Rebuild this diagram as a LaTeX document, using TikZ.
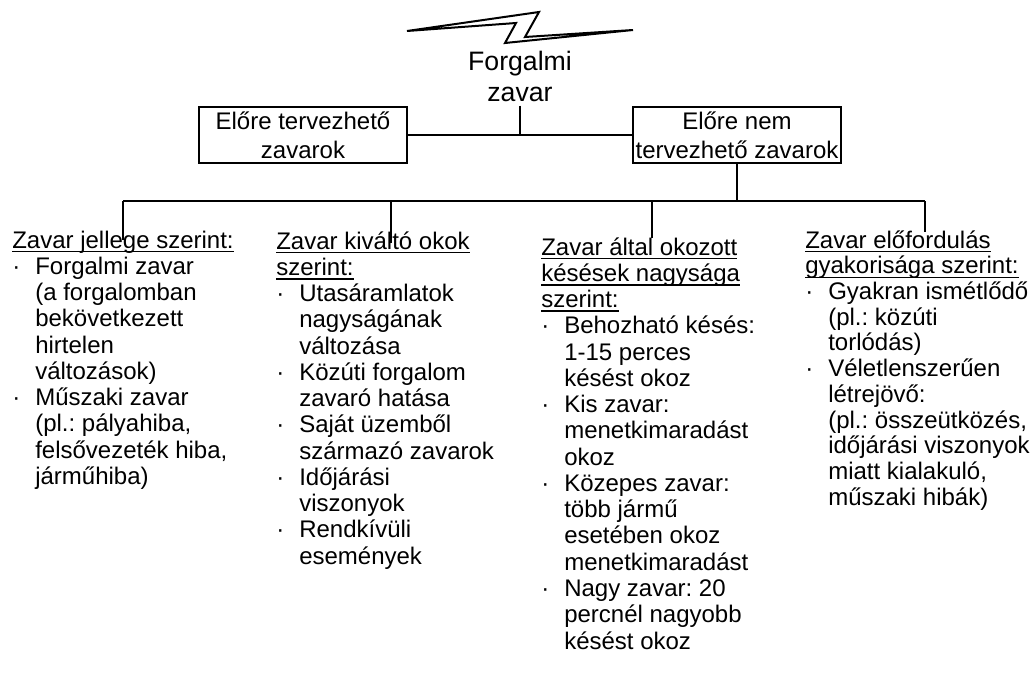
\documentclass[tikz,border=0pt]{standalone}
\usepackage{fontspec}
\setmainfont{Liberation Sans}
\frenchspacing

% one column line: underlined heading, bullet item, continuation line
\newcommand\colhead[1]{\hbox{\setbox0\hbox{#1}\rlap{\rule[-3.2pt]{\wd0}{1pt}}\box0}}
\newcommand\colitem[1]{\hbox{\hbox to 17.25pt{·\hfil}#1}}
\newcommand\colcont[1]{\hbox{\hspace{17.25pt}#1}}

\tikzset{
  textcol/.style={anchor=base west, inner sep=0pt, font=\fontsize{18}{19.7}\selectfont},
  catbox/.style={draw, line width=1.5pt, minimum width=156pt, minimum height=42pt,
    inner sep=0pt, align=center, font=\fontsize{18}{21.75}\selectfont},
  thin/.style={line width=1.1pt},
  thick/.style={line width=1.5pt},
}

\begin{document}
\begin{tikzpicture}[x=0.75pt, y=-0.75pt]
\useasboundingbox (0,0) rectangle (1035,682);

% lightning mark above the root
\draw[line width=1.5pt, fill=white, line join=miter]
  (407,31) -- (539,12) -- (525,37) -- (633,30) -- (505,43) -- (516,23) -- cycle;

% root
\node[anchor=base, inner sep=3pt, font=\fontsize{20}{23.25}\selectfont] (root) at (520,70)
  {\vtop{\lineskiplimit=-\maxdimen\halign{\hfil#\hfil\cr Forgalmi\cr zavar\cr}}};

% two main categories
\node[catbox] (plan) at (303,135) {Előre tervezhető\\zavarok};
\node[catbox] (unplan) at (737,135) {Előre nem\\tervezhető zavarok};

\draw[thin] (plan.east) -- (unplan.west);
\draw[thin] (root.south) -- (root.south |- plan.east);

% columns of the unplanned disturbances
\node[textcol] (c1) at (12,248) {\vtop{\lineskiplimit=-\maxdimen
  \colhead{Zavar jellege szerint:}
  \colitem{Forgalmi zavar}
  \colcont{(a forgalomban}
  \colcont{bekövetkezett}
  \colcont{hirtelen}
  \colcont{változások)}
  \colitem{Műszaki zavar}
  \colcont{(pl.: pályahiba,}
  \colcont{felsővezeték hiba,}
  \colcont{járműhiba)}}};

\node[textcol] (c2) at (276,249) {\vtop{\lineskiplimit=-\maxdimen
  \colhead{Zavar kiváltó okok}
  \colhead{szerint:}
  \colitem{Utasáramlatok}
  \colcont{nagyságának}
  \colcont{változása}
  \colitem{Közúti forgalom}
  \colcont{zavaró hatása}
  \colitem{Saját üzemből}
  \colcont{származó zavarok}
  \colitem{Időjárási}
  \colcont{viszonyok}
  \colitem{Rendkívüli}
  \colcont{események}}};

\node[textcol] (c3) at (541,255) {\vtop{\lineskiplimit=-\maxdimen
  \colhead{Zavar által okozott}
  \colhead{késések nagysága}
  \colhead{szerint:}
  \colitem{Behozható késés:}
  \colcont{1-15 perces}
  \colcont{késést okoz}
  \colitem{Kis zavar:}
  \colcont{menetkimaradást}
  \colcont{okoz}
  \colitem{Közepes zavar:}
  \colcont{több jármű}
  \colcont{esetében okoz}
  \colcont{menetkimaradást}
  \colitem{Nagy zavar: 20}
  \colcont{percnél nagyobb}
  \colcont{késést okoz}}};

\node[textcol] (c4) at (805,248) {\vtop{\baselineskip=19.3pt\lineskiplimit=-\maxdimen
  \colhead{Zavar előfordulás}
  \colhead{gyakorisága szerint:}
  \colitem{Gyakran ismétlődő}
  \colcont{(pl.: közúti}
  \colcont{torlódás)}
  \colitem{Véletlenszerűen}
  \colcont{létrejövő:}
  \colcont{(pl.: összeütközés,}
  \colcont{időjárási viszonyok}
  \colcont{miatt kialakuló,}
  \colcont{műszaki hibák)}}};

% distribution bus
\coordinate (bus) at (737,201);
\coordinate (b1) at (123,201);
\coordinate (b2) at (391,201);
\coordinate (b3) at (652,201);
\coordinate (b4) at (925,201);
\coordinate (e1) at (123,240);
\coordinate (e2) at (391,243);
\coordinate (e3) at (652,238);
\coordinate (e4) at (925,232);

\draw[thick] (unplan.south) -- (bus);
\draw[thick] (b1) -- (b4);
\draw[thin] (b1) -- (e1);
\draw[thin] (b2) -- (e2);
\draw[thin] (b3) -- (e3);
\draw[thin] (b4) -- (e4);
\end{tikzpicture}
\end{document}
